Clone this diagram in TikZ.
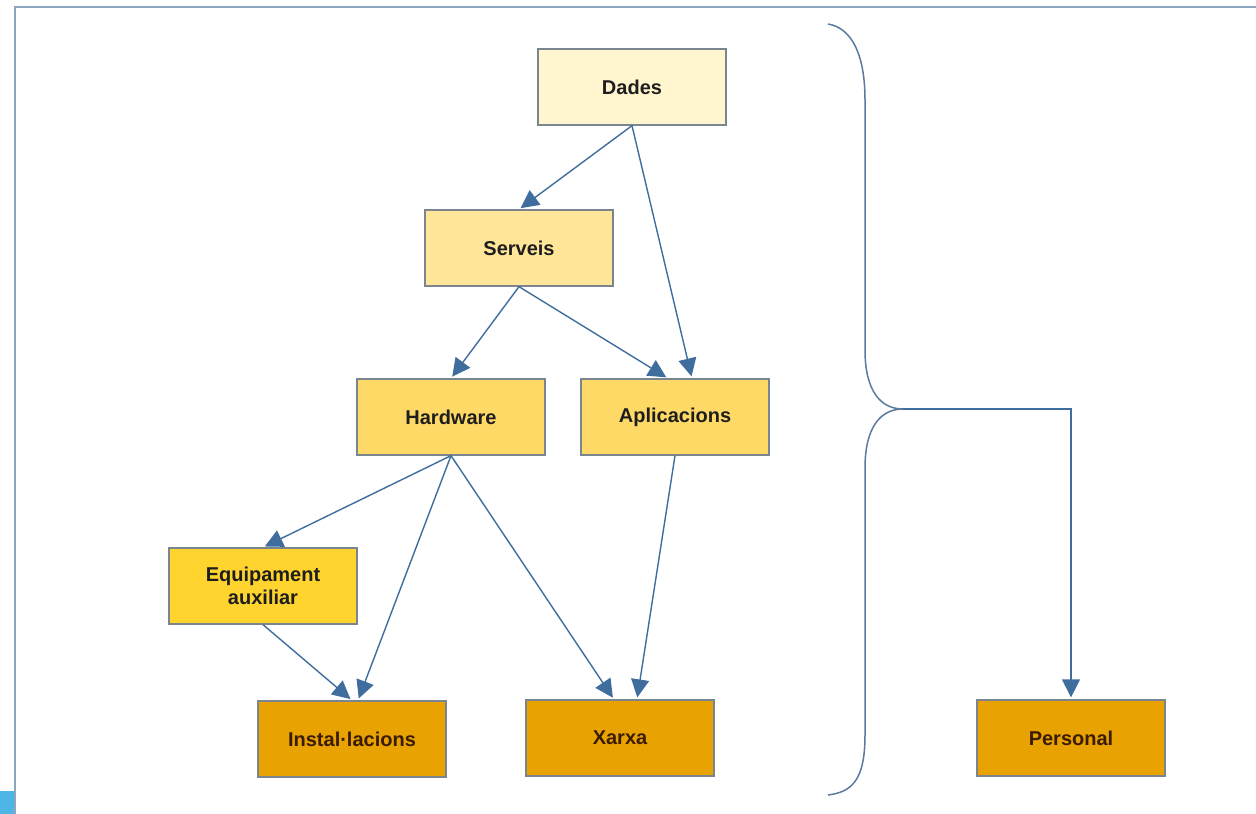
\documentclass[tikz,border=0pt]{standalone}
\usepackage{fontspec}
\setmainfont{Liberation Sans}
\usetikzlibrary{arrows.meta}
\definecolor{c1}{HTML}{FFF5CE}
\definecolor{c2}{HTML}{FFE699}
\definecolor{c3}{HTML}{FFD966}
\definecolor{c4}{HTML}{FFD42E}
\definecolor{c5}{HTML}{E8A202}
\definecolor{edge}{HTML}{3F6E9E}
\definecolor{bracec}{HTML}{5A7A9E}
\definecolor{boxline}{HTML}{7A8590}
\definecolor{frame}{HTML}{8FA6C0}
\definecolor{corner}{HTML}{4DB6E5}
\definecolor{darktxt}{HTML}{1E1E1E}
\definecolor{browntxt}{HTML}{3A1C00}
\tikzset{
  box/.style={draw=boxline, line width=1.3pt, minimum width=188pt, minimum height=76pt,
    inner sep=0pt, align=center, font=\fontsize{20}{23}\selectfont\bfseries, text=darktxt},
  obox/.style={box, fill=c5, text=browntxt},
  conn/.style={draw=edge, line width=1.4pt, -{Triangle[length=18pt,width=18pt]}, shorten >=2pt},
}
\begin{document}
\begin{tikzpicture}[x=1pt,y=-1pt]
\useasboundingbox (0,0) rectangle (1256,814);
\fill[white] (0,0) rectangle (1256,814);
\draw[frame, line width=2pt] (15,814) -- (15,7) -- (1256,7);
\fill[corner] (0,791) rectangle (14,814);

\node[box, fill=c1] (dades) at (632,87) {Dades};
\node[box, fill=c2] (serveis) at (519,248) {Serveis};
\node[box, fill=c3] (hardware) at (451,417) {Hardware};
\node[box, fill=c3] (aplic) at (675,417) {Aplicacions};
\node[box, fill=c4] (equip) at (263,586) {Equipament\\auxiliar};
\node[obox] (instal) at (352,739) {Instal·lacions};
\node[obox] (xarxa) at (620,738) {Xarxa};
\node[obox] (personal) at (1071,738) {Personal};

\draw[conn] (dades.south) -- (serveis.north);
\draw[conn] (dades.south) -- ([xshift=17pt]aplic.north);
\draw[conn] (serveis.south) -- (hardware.north);
\draw[conn] (serveis.south) -- ([xshift=-7pt]aplic.north);
\draw[conn] (hardware.south) -- (equip.north);
\draw[conn] (hardware.south) -- ([xshift=6pt]instal.north);
\draw[conn] (hardware.south) -- ([xshift=-6pt]xarxa.north);
\draw[conn] (aplic.south) -- ([xshift=17pt]xarxa.north);
\draw[conn] (equip.south) -- ([xshift=0pt]instal.north);

\coordinate (tip) at (903,409);
\draw[bracec, line width=1.5pt] (828,24) .. controls (852,28) and (865,55) .. (865,100)
  -- (865,350) .. controls (865,390) and (880,409) .. (tip)
  .. controls (880,409) and (865,428) .. (865,468)
  -- (865,735) .. controls (865,780) and (852,792) .. (828,795);
\draw[conn] (tip) -| (personal.north);
\end{tikzpicture}
\end{document}
